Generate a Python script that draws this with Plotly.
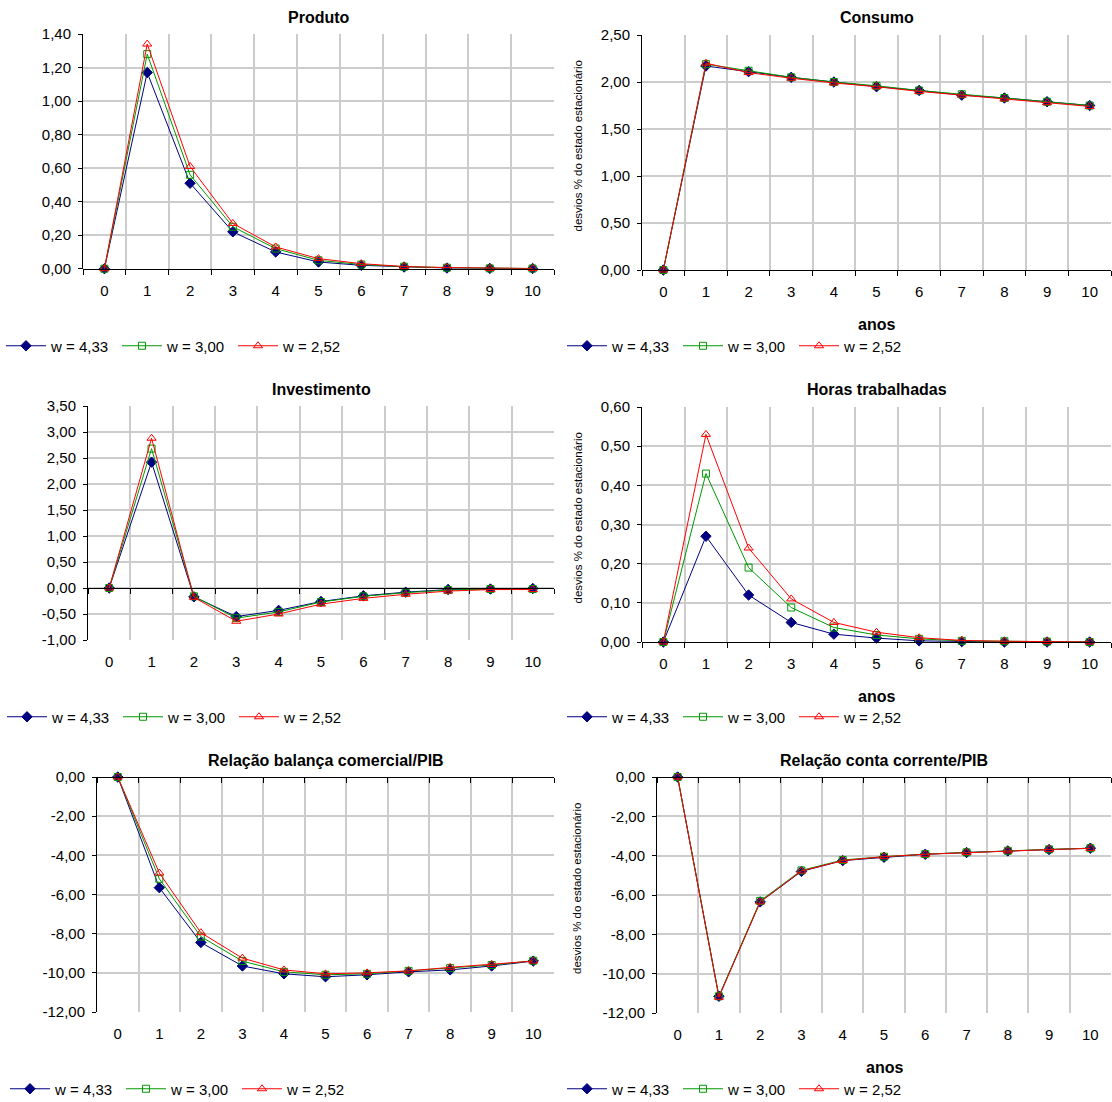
import plotly.graph_objects as go

# ---------------- data ----------------
anos = ["0", "1", "2", "3", "4", "5", "6", "7", "8", "9", "10"]
series_names = ["w = 4,33", "w = 3,00", "w = 2,52"]

produto_433 = [0.00, 1.17, 0.51, 0.22, 0.10, 0.04, 0.02, 0.010, 0.004, 0.002, 0.001]
produto_300 = [0.00, 1.28, 0.56, 0.25, 0.12, 0.05, 0.025, 0.012, 0.006, 0.002, 0.001]
produto_252 = [0.00, 1.34, 0.61, 0.27, 0.13, 0.06, 0.030, 0.013, 0.007, 0.002, 0.001]

consumo_433 = [0.00, 2.17, 2.11, 2.05, 2.00, 1.95, 1.91, 1.86, 1.83, 1.79, 1.75]
consumo_300 = [0.00, 2.19, 2.12, 2.05, 2.00, 1.96, 1.91, 1.87, 1.83, 1.79, 1.75]
consumo_252 = [0.00, 2.20, 2.10, 2.04, 1.99, 1.95, 1.90, 1.86, 1.82, 1.78, 1.74]

invest_433 = [0.00, 2.42, -0.17, -0.55, -0.43, -0.26, -0.15, -0.08, -0.03, -0.02, -0.01]
invest_300 = [0.00, 2.68, -0.16, -0.58, -0.46, -0.27, -0.16, -0.09, -0.04, -0.02, -0.02]
invest_252 = [0.00, 2.88, -0.18, -0.64, -0.50, -0.31, -0.20, -0.12, -0.06, -0.03, -0.03]

horas_433 = [0.00, 0.27, 0.12, 0.050, 0.020, 0.010, 0.003, 0.001, 0.000, 0.000, 0.000]
horas_300 = [0.00, 0.43, 0.19, 0.088, 0.037, 0.018, 0.008, 0.003, 0.002, 0.001, 0.000]
horas_252 = [0.00, 0.53, 0.24, 0.110, 0.050, 0.025, 0.011, 0.004, 0.002, 0.001, 0.000]

balanca_433 = [0.00, -5.65, -8.45, -9.65, -10.05, -10.20, -10.10, -9.95, -9.85, -9.65, -9.40]
balanca_300 = [0.00, -5.20, -8.15, -9.40, -9.95, -10.10, -10.05, -9.90, -9.75, -9.60, -9.38]
balanca_252 = [0.00, -4.90, -7.95, -9.25, -9.85, -10.05, -10.00, -9.90, -9.72, -9.57, -9.40]

conta_433 = [0.00, -11.15, -6.35, -4.80, -4.25, -4.08, -3.93, -3.84, -3.76, -3.69, -3.62]
conta_300 = [0.00, -11.15, -6.30, -4.75, -4.22, -4.05, -3.92, -3.83, -3.75, -3.68, -3.62]
conta_252 = [0.00, -11.20, -6.35, -4.78, -4.25, -4.05, -3.93, -3.84, -3.76, -3.69, -3.63]

ticks_produto = [0.0, 0.2, 0.4, 0.6, 0.8, 1.0, 1.2, 1.4]
labels_produto = ["0,00", "0,20", "0,40", "0,60", "0,80", "1,00", "1,20", "1,40"]
ticks_consumo = [0.0, 0.5, 1.0, 1.5, 2.0, 2.5]
labels_consumo = ["0,00", "0,50", "1,00", "1,50", "2,00", "2,50"]
ticks_invest = [-1.0, -0.5, 0.0, 0.5, 1.0, 1.5, 2.0, 2.5, 3.0, 3.5]
labels_invest = ["-1,00", "-0,50", "0,00", "0,50", "1,00", "1,50", "2,00", "2,50", "3,00", "3,50"]
ticks_horas = [0.0, 0.1, 0.2, 0.3, 0.4, 0.5, 0.6]
labels_horas = ["0,00", "0,10", "0,20", "0,30", "0,40", "0,50", "0,60"]
ticks_pib = [-12, -10, -8, -6, -4, -2, 0]
labels_pib = ["-12,00", "-10,00", "-8,00", "-6,00", "-4,00", "-2,00", "0,00"]

# ---------------- styling ----------------
W, H = 1112, 1102
FONT = "Liberation Sans, Arial, sans-serif"
colors = ["#000080", "#009900", "#FF0000"]
symbols = ["diamond", "square-open", "triangle-up-open"]
msizes = [8, 7, 8]
GRID = "#CCCCCC"

panels = [
    dict(title="Produto", data=[produto_433, produto_300, produto_252],
         tv=ticks_produto, tt=labels_produto, box=(83, 554, 34, 268.7),
         ytitle=False, anos=False, leg=(1, 346)),
    dict(title="Consumo", data=[consumo_433, consumo_300, consumo_252],
         tv=ticks_consumo, tt=labels_consumo, box=(642, 1111, 35, 270),
         ytitle=True, anos=True, leg=(562, 346)),
    dict(title="Investimento", data=[invest_433, invest_300, invest_252],
         tv=ticks_invest, tt=labels_invest, box=(88, 554, 406, 640),
         ytitle=False, anos=False, leg=(2, 717)),
    dict(title="Horas trabalhadas", data=[horas_433, horas_300, horas_252],
         tv=ticks_horas, tt=labels_horas, box=(642, 1111, 407, 642),
         ytitle=True, anos=True, leg=(562, 717)),
    dict(title="Relação balança comercial/PIB", data=[balanca_433, balanca_300, balanca_252],
         tv=ticks_pib, tt=labels_pib, box=(97, 554, 777, 1012),
         ytitle=False, anos=False, leg=(5, 1089)),
    dict(title="Relação conta corrente/PIB", data=[conta_433, conta_300, conta_252],
         tv=ticks_pib, tt=labels_pib, box=(657, 1111, 777, 1013),
         ytitle=True, anos=True, leg=(562, 1089)),
]

fig = go.Figure()
layout = dict(
    template="none",
    width=W, height=H, margin=dict(l=0, r=0, t=0, b=0, pad=0, autoexpand=False),
    paper_bgcolor="white", plot_bgcolor="white",
    font=dict(family=FONT, size=15, color="black"),
    separators=",.",
    annotations=[],
)

for i, p in enumerate(panels, 1):
    xs = "" if i == 1 else str(i)
    legname = "legend" if i == 1 else f"legend{i}"
    x0, x1, y0, y1 = p["box"]
    xd = [x0 / W, x1 / W]
    yd = [1 - y1 / H, 1 - y0 / H]
    ymin, ymax = p["tv"][0], p["tv"][-1]
    zero_frac = (0 - ymin) / (ymax - ymin)
    zero_pos = yd[0] + zero_frac * (yd[1] - yd[0])
    dist_zero_to_bottom = zero_frac * (y1 - y0)

    for k in range(3):
        fig.add_trace(go.Scatter(
            x=anos, y=p["data"][k], name=series_names[k], mode="lines+markers",
            line=dict(color=colors[k], width=1),
            marker=dict(symbol=symbols[k], size=msizes[k], color=colors[k],
                        line=dict(color=colors[k], width=1)),
            xaxis="x" + xs, yaxis="y" + xs, legend=legname, showlegend=True,
            cliponaxis=False,
        ))

    layout["xaxis" + xs] = dict(
        domain=xd, anchor="free", position=zero_pos, automargin=False,
        type="category", categoryorder="array", categoryarray=anos,
        range=[-0.5, 10.5], tickson="boundaries",
        ticks="outside", ticklen=5, tickcolor="black", tickwidth=1,
        showline=True, linecolor="black", linewidth=1,
        showgrid=True, gridcolor=GRID, gridwidth=2, zeroline=False,
        ticklabelstandoff=int(round(8 + dist_zero_to_bottom)),
        tickfont=dict(family=FONT, size=15, color="black"),
    )
    layout["yaxis" + xs] = dict(
        domain=yd, anchor="x" + xs, range=[ymin, ymax], automargin=False,
        tickmode="array", tickvals=p["tv"], ticktext=p["tt"],
        ticks="outside", ticklen=4, tickcolor="black", tickwidth=1,
        showline=True, linecolor="black", linewidth=1,
        showgrid=True, gridcolor=GRID, gridwidth=2, zeroline=False,
        ticklabelstandoff=4,
        tickfont=dict(family=FONT, size=15, color="black"),
    )
    lx, ly = p["leg"]
    layout[legname] = dict(
        orientation="h", x=lx / W, y=1 - ly / H, xanchor="left", yanchor="middle",
        font=dict(family=FONT, size=15, color="black"), bgcolor="rgba(0,0,0,0)",
        borderwidth=0, itemwidth=40, entrywidth=61, entrywidthmode="pixels",
        itemclick=False, itemdoubleclick=False, tracegroupgap=0,
    )
    layout["annotations"].append(dict(
        text="<b>" + p["title"] + "</b>", xref="paper", yref="paper",
        x=(x0 + x1) / 2 / W, y=1 - (y0 - 17) / H, xanchor="center", yanchor="middle",
        showarrow=False, font=dict(family=FONT, size=16, color="black"),
    ))
    if p["anos"]:
        layout["annotations"].append(dict(
            text="<b>anos</b>", xref="paper", yref="paper",
            x=(x0 + x1) / 2 / W, y=1 - (y1 + 54) / H, xanchor="center", yanchor="middle",
            showarrow=False, font=dict(family=FONT, size=16, color="black"),
        ))
    if p["ytitle"]:
        layout["annotations"].append(dict(
            text="desvios % do estado estacionário", xref="paper", yref="paper",
            x=577 / W, y=1 - ((y0 + y1) / 2 - 6) / H, xanchor="center", yanchor="middle",
            textangle=-90, showarrow=False, font=dict(family=FONT, size=11.5, color="black"),
        ))

fig.update_layout(**layout)
fig.write_html("out.html")
